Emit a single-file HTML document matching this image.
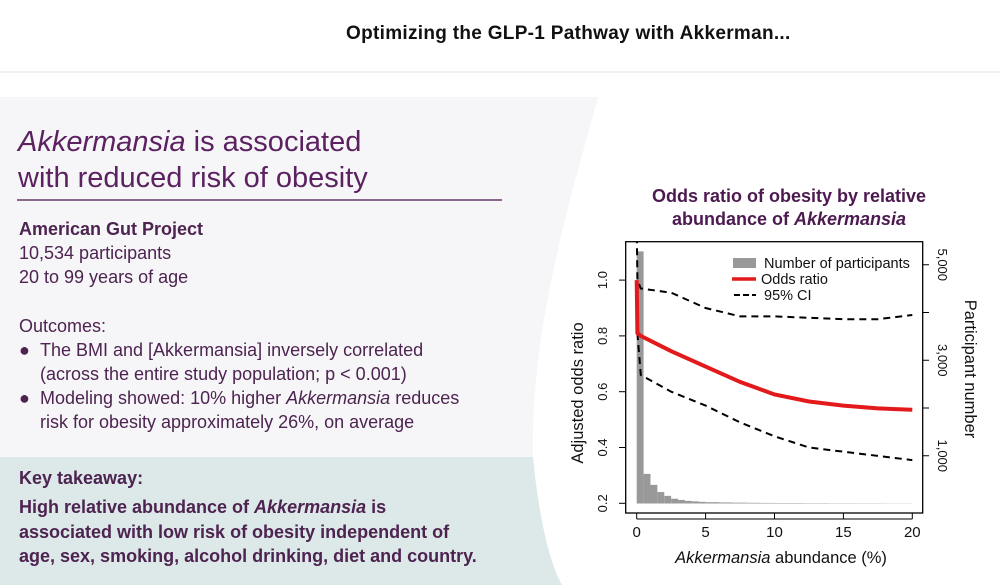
<!DOCTYPE html>
<html><head><meta charset="utf-8"><style>
body{margin:0;width:1000px;height:585px;overflow:hidden;background:#fff;font-family:"Liberation Sans",sans-serif;position:relative}
.abs{position:absolute;white-space:nowrap}
.p{color:#4d2350;font-size:18px;line-height:24px}
</style></head><body>
<svg class="abs" style="left:0;top:0" width="1000" height="585">
<line x1="0" y1="72" x2="1000" y2="72" stroke="#ececef" stroke-width="1.5"/>
<path d="M0,97 L598,97 C570,200 530,330 533,457 L0,457 Z" fill="#f6f6f8"/>
<path d="M0,457 L533,457 C538,510 548,560 562,585 L0,585 Z" fill="#dde8e9"/>
</svg>
<div class="abs" style="left:346px;top:23px;font-size:19px;letter-spacing:0.3px;font-weight:bold;color:#111">Optimizing the GLP-1 Pathway with Akkerman...</div>
<div class="abs" style="left:18px;top:124px;font-size:29px;line-height:36px;color:#5b2160"><i>Akkermansia</i> is associated<br>with reduced risk of obesity</div>
<div class="abs" style="left:17px;top:199px;width:485px;height:1.5px;background:#8a6a8c"></div>
<div class="abs p" style="left:19px;top:217px"><b>American Gut Project</b><br>10,534 participants<br>20 to 99 years of age</div>
<div class="abs p" style="left:19px;top:314px">Outcomes:</div>
<div class="abs p" style="left:19px;top:338px">
<div><span style="display:inline-block;width:21px">●</span>The BMI and [Akkermansia] inversely correlated</div>
<div style="padding-left:21px">(across the entire study population; p &lt; 0.001)</div>
<div><span style="display:inline-block;width:21px">●</span>Modeling showed: 10% higher <i>Akkermansia</i> reduces</div>
<div style="padding-left:21px">risk for obesity approximately 26%, on average</div></div>
<div class="abs p" style="left:19px;top:466px;font-weight:bold">Key takeaway:</div>
<div class="abs p" style="left:19px;top:495px;font-weight:bold;line-height:24.5px">High relative abundance of <i>Akkermansia</i> is<br>associated with low risk of obesity independent of<br>age, sex, smoking, alcohol drinking, diet and country.</div>
<div class="abs" style="left:589px;top:185px;width:400px;text-align:center;font-size:18px;line-height:23px;font-weight:bold;color:#4d1a50">Odds ratio of obesity by relative<br>abundance of <i>Akkermansia</i></div>
<svg id="chart" class="abs" style="left:0;top:0" width="1000" height="585"></svg>
<script>
const histX=[0,0.5,1,1.5,2,2.5,3,3.5,4,4.5,5,6,7,8,9,10,12,14,16,18];
const histW=[0.5,0.5,0.5,0.5,0.5,0.5,0.5,0.5,0.5,0.5,1,1,1,1,1,2,2,2,2,2];
const histN=[5280,620,390,240,160,100,75,55,45,35,28,22,18,15,12,10,8,6,5,4];
const orX=[0,0.05,0.3,2.5,5,7.5,10,12.5,15,17.5,20];
const orY=[1.0,0.81,0.80,0.745,0.69,0.635,0.59,0.565,0.55,0.54,0.535];
const upX=[0,0.05,0.3,2.5,5,7.5,10,12.5,15,17.5,20];
const upY=[1.2,1.0,0.97,0.955,0.9,0.87,0.87,0.865,0.86,0.86,0.875];
const loX=[0.05,0.3,2.5,5,7.5,10,12.5,15,17.5,20];
const loY=[0.81,0.66,0.6,0.55,0.49,0.44,0.40,0.385,0.37,0.355];
const xTicks=[0,5,10,15,20];
const yTicks=[0.2,0.4,0.6,0.8,1.0];
const rTicks=[1000,2000,3000,4000,5000];
const rLabels={1000:"1,000",3000:"3,000",5000:"5,000"};
const NS="http://www.w3.org/2000/svg";
const svg=document.getElementById('chart');
const X=v=>636.7+v*13.78;
const Y=v=>503.3-(v-0.2)*279;
const R=v=>503.5-v*0.04775;
function mk(t,a,txt){const e=document.createElementNS(NS,t);for(const k in a)e.setAttribute(k,a[k]);if(txt!==undefined)e.textContent=txt;svg.appendChild(e);return e;}
const clip=mk('clipPath',{id:'cp'});
const cr=document.createElementNS(NS,'rect');cr.setAttribute('x',626);cr.setAttribute('y',242);cr.setAttribute('width',297);cr.setAttribute('height',271);clip.appendChild(cr);
const box=mk('rect',{x:625.7,y:241.7,width:297,height:271.3,fill:'#fff',stroke:'#000','stroke-width':1.3});


histX.forEach((x,i)=>{const b=mk('rect',{x:X(x),y:R(histN[i]),width:X(x+histW[i])-X(x),height:R(0)-R(histN[i]),fill:'#999'});

});
function line(xs,ys,a,name){const d=xs.map((x,i)=>(i?'L':'M')+X(x).toFixed(1)+','+Y(ys[i]).toFixed(1)).join(' ');const p=mk('path',Object.assign({d:d,fill:'none','clip-path':'url(#cp)'},a));

}
line(upX,upY,{stroke:'#000','stroke-width':2,'stroke-dasharray':'7,5'},'ci-upper-line');
line(loX,loY,{stroke:'#000','stroke-width':2,'stroke-dasharray':'7,5'},'ci-lower-line');
line(orX,orY,{stroke:'#e31a1c','stroke-width':4},'odds-ratio-line');
xTicks.forEach(t=>{mk('line',{x1:X(t),x2:X(t),y1:513,y2:519,stroke:'#000'});
const l=mk('text',{x:X(t),y:537,'text-anchor':'middle','font-size':15,fill:'#111'},t);

});
mk('line',{x1:X(0),x2:X(20),y1:519,y2:519,stroke:'#000'});
yTicks.forEach(t=>{mk('line',{x1:619,x2:625.7,y1:Y(t),y2:Y(t),stroke:'#000'});
const l=mk('text',{x:0,y:0,transform:`translate(607,${Y(t)}) rotate(-90)`,'text-anchor':'middle','font-size':13,fill:'#111'},t.toFixed(1));

});
rTicks.forEach(t=>{mk('line',{x1:922.7,x2:929,y1:R(t),y2:R(t),stroke:'#000'});
if(rLabels[t]){const l=mk('text',{x:0,y:0,transform:`translate(938,${R(t)}) rotate(90)`,'text-anchor':'middle','font-size':13,fill:'#111'},rLabels[t]);

}});
const yt=mk('text',{x:0,y:0,transform:'translate(583,393) rotate(-90)','text-anchor':'middle','font-size':16.5,fill:'#111'},'Adjusted odds ratio');


const rt=mk('text',{x:0,y:0,transform:'translate(965,369) rotate(90)','text-anchor':'middle','font-size':16.5,fill:'#111'},'Participant number');


const xt=mk('text',{x:781,y:563,'text-anchor':'middle','font-size':16.5,fill:'#111'});
xt.innerHTML='<tspan font-style="italic">Akkermansia</tspan> abundance (%)';


const lg=[['Number of  participants','bar'],['Odds ratio','red'],['95% CI','dash']];
lg.forEach((e,i)=>{const y=263+i*16;
if(e[1]=='bar')mk('rect',{x:733,y:y-5,width:23,height:10,fill:'#999'});
else if(e[1]=='red')mk('line',{x1:732,x2:756,y1:y,y2:y,stroke:'#e31a1c','stroke-width':3.5});
else mk('line',{x1:734,x2:756,y1:y,y2:y,stroke:'#000','stroke-width':2,'stroke-dasharray':'6,3'});
const t=mk('text',{x:i==1?761:764,y:y+5,'font-size':14.5,fill:'#111'},e[0]);

});
</script>
</body></html>
